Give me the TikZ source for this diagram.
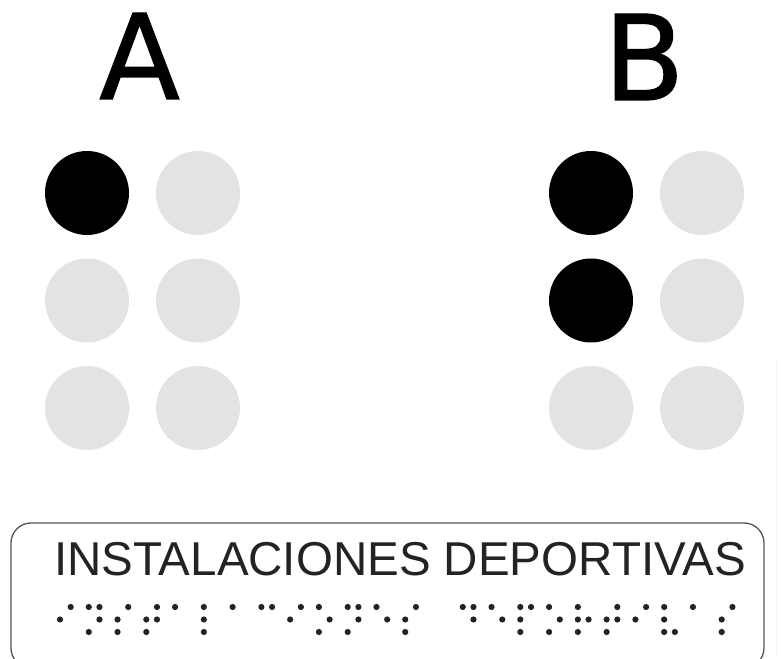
\documentclass[tikz,border=0pt]{standalone}
\usepackage{fontspec}
\setmainfont{Liberation Sans}
\newfontfamily\letterfont{DejaVu Sans}[FakeBold=1]
\usepackage{xcolor}
\definecolor{dotgray}{RGB}{227,227,227}
\definecolor{boxgray}{RGB}{85,85,85}
\definecolor{inkgray}{RGB}{35,35,35}

\begin{document}
\begin{tikzpicture}[x=1pt,y=1pt]
  \useasboundingbox[fill=white] (0,0) rectangle (781,658);
  \clip (0,0) rectangle (781,658);
  % big letters
  \node[anchor=base west, inner sep=0pt, font=\letterfont\fontsize{118}{118}\selectfont] (A) at (99,559) {A};
  \node[anchor=base west, inner sep=0pt, font=\letterfont\fontsize{118}{118}\selectfont] (B) at (603.4,558) {B};
  % big cells: A = dot 1, B = dots 1,2
  \foreach \cx/\on in {87/1, 591/2} {
    \foreach \r in {0,1,2} {
      \pgfmathsetmacro\cy{465-107.5*\r}
      \ifnum\r<\on \fill (\cx,\cy) circle (42); \else \fill[dotgray] (\cx,\cy) circle (42); \fi
      \fill[dotgray] (\cx+111,\cy) circle (42);
    }
  }
  % label
  \draw[boxgray, line width=1.3pt, rounded corners=20pt] (11,-10) rectangle (764,135);
  \node[anchor=base, inner sep=0pt, text=inkgray, font=\fontsize{47.5}{47.5}\selectfont] (label) at (400,82) {INSTALACIONES DEPORTIVAS};
  % braille line
  \foreach \k/\pts in {0/{2,4}, 1/{1,3,4,5}, 2/{2,3,4}, 3/{2,3,4,5}, 4/{1}, 5/{1,2,3}, 6/{1},
      7/{1,4}, 8/{2,4}, 9/{1,3,5}, 10/{1,3,4,5}, 11/{1,5}, 12/{2,3,4},
      14/{1,4,5}, 15/{1,5}, 16/{1,2,3,4}, 17/{1,3,5}, 18/{1,2,3,5}, 19/{2,3,4,5},
      20/{2,4}, 21/{1,2,3,6}, 22/{1}, 23/{2,3,4}} {
    \foreach \d in \pts {
      \pgfmathtruncatemacro\col{\d>3}
      \pgfmathtruncatemacro\row{mod(\d-1,3)}
      \fill[inkgray] ({60+28.77*\k+10.7*\col},{51-12.5*\row}) circle (3.1);
    }
  }
  \draw[gray!8] (776,298) -- (776,0);
\end{tikzpicture}
\end{document}
